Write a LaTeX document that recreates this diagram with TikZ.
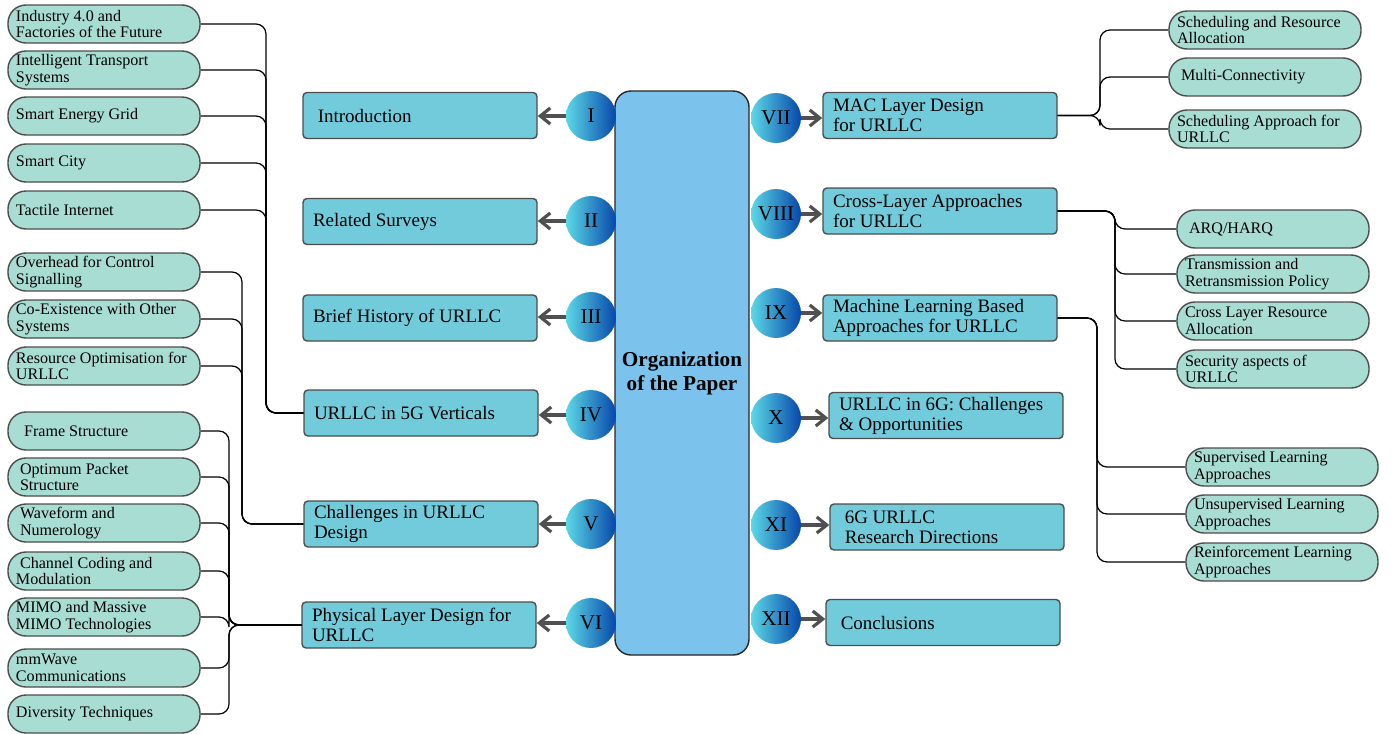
\documentclass[tikz,border=0pt]{standalone}
\usepackage{fontspec}
\setmainfont{Liberation Serif}
\usepackage{tikz}
\usetikzlibrary{arrows.meta}
\definecolor{secblue}{HTML}{72CBDB}
\definecolor{subgreen}{HTML}{A8DDD3}
\definecolor{hubblue}{HTML}{7BC2EC}
\definecolor{edgegray}{HTML}{4D4D4D}
\definecolor{arrowgray}{HTML}{505050}
\definecolor{numlight}{HTML}{5CD8E6}
\definecolor{numdark}{HTML}{0747AA}
\tikzset{sec/.style = {draw=edgegray, fill=secblue, rounded corners=2pt, line width=0.7pt,
                       minimum height=23pt, text width=107pt, inner xsep=5pt, inner ysep=1pt,
                       align=flush left, font=\fontsize{9.5}{10}\selectfont}}
\tikzset{sub/.style = {draw=edgegray, fill=subgreen, rounded corners=9pt, line width=0.7pt,
                       minimum height=19pt, text width=88pt, inner xsep=4pt, inner ysep=1pt,
                       align=flush left, font=\fontsize{8.05}{8.4}\selectfont}}
\tikzset{num/.style = {circle, minimum size=25pt, inner sep=0pt, left color=numlight,
                       right color=numdark, font=\fontsize{10.5}{12}\selectfont}}
\tikzset{hub/.style = {draw=black!85, fill=hubblue, rounded corners=8pt, line width=0.7pt,
                       minimum width=67pt, minimum height=282pt, align=center,
                       font=\bfseries\fontsize{10.6}{12}\selectfont}}
\tikzset{arr/.style = {draw=arrowgray, line width=1.6pt, -{Straight Barb[length=5pt,width=8pt]}}}
\tikzset{link/.style = {draw=black, line width=0.6pt, rounded corners=5pt}}

\begin{document}
\begin{tikzpicture}[x=0.5pt, y=-0.5pt]
    \useasboundingbox (0,0) rectangle (1394,734);
    \node [hub] (hub) at (682,373) {Organization\\of the Paper};

    \node [sec] (sI)   at (420,115.5) {\ Introduction};
    \node [sec] (sII)  at (420,221.5) {Related Surveys};
    \node [sec] (sIII) at (420,318)   {Brief History of URLLC};
    \node [sec] (sIV)  at (421,413)   {URLLC in 5G Verticals};
    \node [sec] (sV)   at (421,524)   {Challenges in URLLC\\Design};
    \node [sec] (sVI)  at (419,625)   {Physical Layer Design for\\URLLC};

    \node [sec] (sVII)  at (940,115.5) {MAC Layer Design\\for URLLC};
    \node [sec] (sVIII) at (940,211)   {Cross-Layer Approaches\\for URLLC};
    \node [sec] (sIX)   at (940,318)   {Machine Learning Based\\Approaches for URLLC};
    \node [sec] (sX)    at (946,415.5) {URLLC in 6G: Challenges\\\& Opportunities};
    \node [sec] (sXI)   at (947,527)   {\ 6G URLLC\\\ Research Directions};
    \node [sec] (sXII)  at (943,622.5) {\ Conclusions};

    \foreach \n/\y in {I/116, II/221, III/317, IV/415, V/524, VI/623} {
      \node [num] (c\n) at (591,\y) {\n};
      \draw [arr] (c\n) -- (c\n -| s\n.east);
    }
    \foreach \n/\y in {VII/118, VIII/214, IX/313, X/418, XI/525, XII/619} {
      \node [num] (c\n) at (776,\y) {\n};
      \draw [arr] (c\n) -- (c\n -| s\n.west);
    }

    \coordinate (busA) at (266,413);
    \foreach \i/\y/\txt in {1/24/{Industry 4.0 and\\Factories of the Future},
                            2/70/{Intelligent Transport\\Systems},
                            3/116/{Smart Energy Grid},
                            4/163/{Smart City},
                            5/210/{Tactile Internet}} {
      \node [sub] (a\i) at (104,\y) {\txt};
      \draw [link] (a\i.east) -| (busA) -- (sIV.west);
    }
    \coordinate (busB) at (242,524);
    \foreach \i/\y/\txt in {1/272/{Overhead for Control\\Signalling},
                            2/319/{Co-Existence with Other\\Systems},
                            3/366/{Resource Optimisation for\\URLLC}} {
      \node [sub] (b\i) at (104,\y) {\txt};
      \draw [link] (b\i.east) -| (busB) -- (sV.west);
    }
    \coordinate (busC) at (229,625);
    \foreach \i/\y/\txt in {1/431/{\ \ Frame Structure},
                            2/477/{\ Optimum Packet\\\ Structure},
                            3/523/{\ Waveform and\\\ Numerology},
                            4/571/{\ Channel Coding and\\Modulation},
                            5/617/{MIMO and Massive\\MIMO Technologies},
                            6/668/{mmWave\\Communications},
                            7/714/{Diversity Techniques}} {
      \node [sub] (p\i) at (104,\y) {\txt};
      \draw [link] (p\i.east) -| (busC) -- (sVI.west);
    }

    \coordinate (busD) at (1100,115.5);
    \foreach \i/\y/\txt in {1/30/{Scheduling and Resource\\Allocation},
                            2/77/{\ Multi-Connectivity},
                            3/129/{Scheduling Approach for\\URLLC}} {
      \node [sub] (m\i) at (1265,\y) {\txt};
      \draw [link] (sVII.east) -- (busD) |- (m\i.west);
    }
    \coordinate (busE) at (1115,211);
    \foreach \i/\y/\txt in {1/229/{\ ARQ/HARQ},
                            2/274/{Transmission and\\Retransmission Policy},
                            3/321/{Cross Layer Resource\\Allocation},
                            4/369/{Security aspects of\\URLLC}} {
      \node [sub] (x\i) at (1273,\y) {\txt};
      \draw [link] (sVIII.east) -- (busE) |- (x\i.west);
    }
    \coordinate (busF) at (1097,318);
    \foreach \i/\y/\txt in {1/467/{Supervised Learning\\Approaches},
                            2/514/{Unsupervised Learning\\Approaches},
                            3/562/{Reinforcement Learning\\Approaches}} {
      \node [sub] (g\i) at (1282,\y) {\txt};
      \draw [link] (sIX.east) -- (busF) |- (g\i.west);
    }
\end{tikzpicture}
\end{document}
